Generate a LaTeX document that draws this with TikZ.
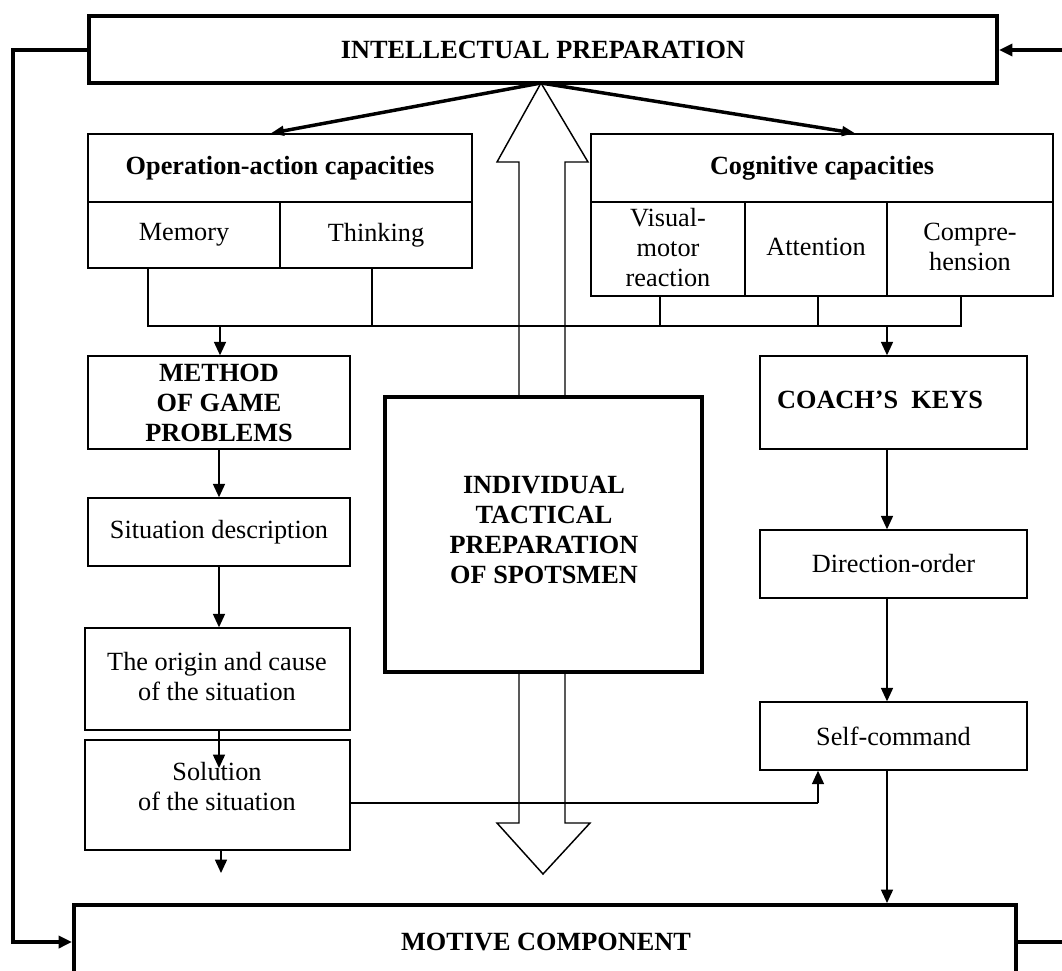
\documentclass[tikz,border=0pt]{standalone}
\usepackage{fontspec}
\setmainfont{Liberation Serif}
\usetikzlibrary{arrows.meta,fit}
\begin{document}
\begin{tikzpicture}[x=0.75pt,y=-0.75pt,
  txt/.style={inner sep=0pt, align=center, font=\fontsize{19.7}{22.5}\selectfont},
  btxt/.style={txt, font=\fontsize{19.7}{22.5}\selectfont\bfseries},
  box/.style={draw, line width=1.1pt, inner sep=0pt},
  heavy/.style={draw, line width=3pt, inner sep=0pt},
  conn/.style={line width=1.1pt},
  arr/.style={conn, -{Triangle[length=10pt,width=9pt]}},
  fb/.style={line width=3pt},
  fbarr/.style={fb, -{Triangle[length=10pt,width=9pt]}},
  bigarr/.style={line width=2.6pt, -{Triangle[length=10pt,width=7pt]}},
  hollow/.style={line width=1.1pt, line join=miter}
  ]
\useasboundingbox (0,0) rectangle (1062,970);
\clip (0,0) rectangle (1062,970);

% boxes
\node[heavy, fit={(89,16)(997,83)}] (top) {};
\node[btxt] (toptext) at (top.center) {INTELLECTUAL PREPARATION};
\node[box, fit={(88,134)(472,202)}] (ophead) {};
\node[btxt] (optext) at (ophead.center) {Operation-action capacities};
\node[box, fit={(88,202)(280,268)}] (mem) {};
\node[txt] (memtext) at (mem.center) {Memory};
\node[box, fit={(280,202)(472,268)}] (think) {};
\node[txt] (thinktext) at (think.center) {Thinking};
\node[box, fit={(591,134)(1053,202)}] (coghead) {};
\node[btxt] (cogtext) at (coghead.center) {Cognitive capacities};
\node[box, fit={(591,202)(745,296)}] (vis) {};
\node[txt] (vistext) at ([yshift=1pt]vis.center) {Visual-\\motor\\reaction};
\node[box, fit={(745,202)(887,296)}] (att) {};
\node[txt] (atttext) at ([yshift=1.5pt]att.center) {Attention};
\node[box, fit={(887,202)(1053,296)}] (comp) {};
\node[txt] (comptext) at ([yshift=1.5pt]comp.center) {Compre-\\hension};

\node[box, fit={(88,356)(350,449)}] (method) {};
\node[btxt] (methodtext) at (method.center) {METHOD\\OF GAME\\PROBLEMS};
\node[box, fit={(88,498)(350,566)}] (sit) {};
\node[txt] (sittext) at (sit.center) {Situation description};
\node[box, fit={(85,628)(350,730)}] (origin) {};
\node[txt] (origintext) at (217,677) {The origin and cause\\of the situation};
\node[box, fit={(85,740)(350,850)}] (sol) {};
\node[txt] (soltext) at (217,787) {Solution\\of the situation};

\node[heavy, fit={(385,397)(702,672)}] (central) {};
\node[btxt] (centraltext) at (544,530) {INDIVIDUAL\\TACTICAL\\PREPARATION\\OF SPOTSMEN};

\node[box, fit={(760,356)(1027,449)}] (coach) {};
\node[btxt] (coachtext) at (880,400) {COACH’S~~KEYS};
\node[box, fit={(760,530)(1027,598)}] (dir) {};
\node[txt] (dirtext) at (dir.center) {Direction-order};
\node[box, fit={(760,702)(1027,770)}] (self) {};
\node[txt] (selftext) at (self.center) {Self-command};

\node[heavy, fit={(74,905)(1016,1000)}] (motive) {};
\node[btxt] (motivetext) at (546,942) {MOTIVE COMPONENT};

% hollow double arrow
\draw[hollow] (519,397) -- (519,162) -- (497,162) -- (541,83) -- (588,162) -- (565,162) -- (565,397);
\draw[hollow] (519,672) -- (519,823) -- (497,823) -- (543,874) -- (590,823) -- (565,823) -- (565,672);

% arrows from the top box
\coordinate (apex) at (541,83);
\draw[bigarr] (apex) -- ([xshift=-7pt]ophead.north);
\draw[bigarr] (apex) -- ([xshift=25pt]coghead.north);

% collecting line
\coordinate (jm) at (148,326);
\coordinate (jt) at (372,326);
\coordinate (jv) at (660,326);
\coordinate (ja) at (818,326);
\coordinate (jc) at (961,326);
\coordinate (jmeth) at (220,326);
\coordinate (jcoach) at (887,326);
\draw[conn] (mem.south -| jm) -- (jm) -- (jc) -- (comp.south -| jc);
\draw[conn] (think.south -| jt) -- (jt);
\draw[conn] (vis.south -| jv) -- (jv);
\draw[conn] (att.south -| ja) -- (ja);
\draw[arr] (jmeth) -- (method.north -| jmeth);
\draw[arr] (jcoach) -- (coach.north -| jcoach);

% left chain
\draw[arr] (method.south) -- (sit.north);
\draw[arr] (sit.south) -- (sit.south |- origin.north);
\coordinate (soltip) at (219,768);
\draw[arr] (origin.south -| soltip) -- (soltip);
\coordinate (solout) at (221,873);
\draw[arr] (sol.south -| solout) -- (solout);
\coordinate (sk) at (818,803);
\draw[conn] (sol.east |- sk) -- (sk);
\draw[arr] (sk) -- (self.south -| sk);

% right chain
\draw[arr] (coach.south -| jcoach) -- (dir.north -| jcoach);
\draw[arr] (dir.south -| jcoach) -- (self.north -| jcoach);
\draw[arr] (self.south -| jcoach) -- (motive.north -| jcoach);

% feedback lines
\coordinate (lf1) at (13,50);
\coordinate (lf2) at (13,942);
\draw[fbarr] (top.west |- lf1) -- (lf1) -- (lf2) -- (motive.west |- lf2);
\coordinate (rf1) at (1062,50);
\draw[fbarr] (rf1) -- (top.east |- rf1);
\coordinate (rf2) at (1062,942);
\draw[fb] (motive.east |- rf2) -- (rf2);
\end{tikzpicture}
\end{document}
